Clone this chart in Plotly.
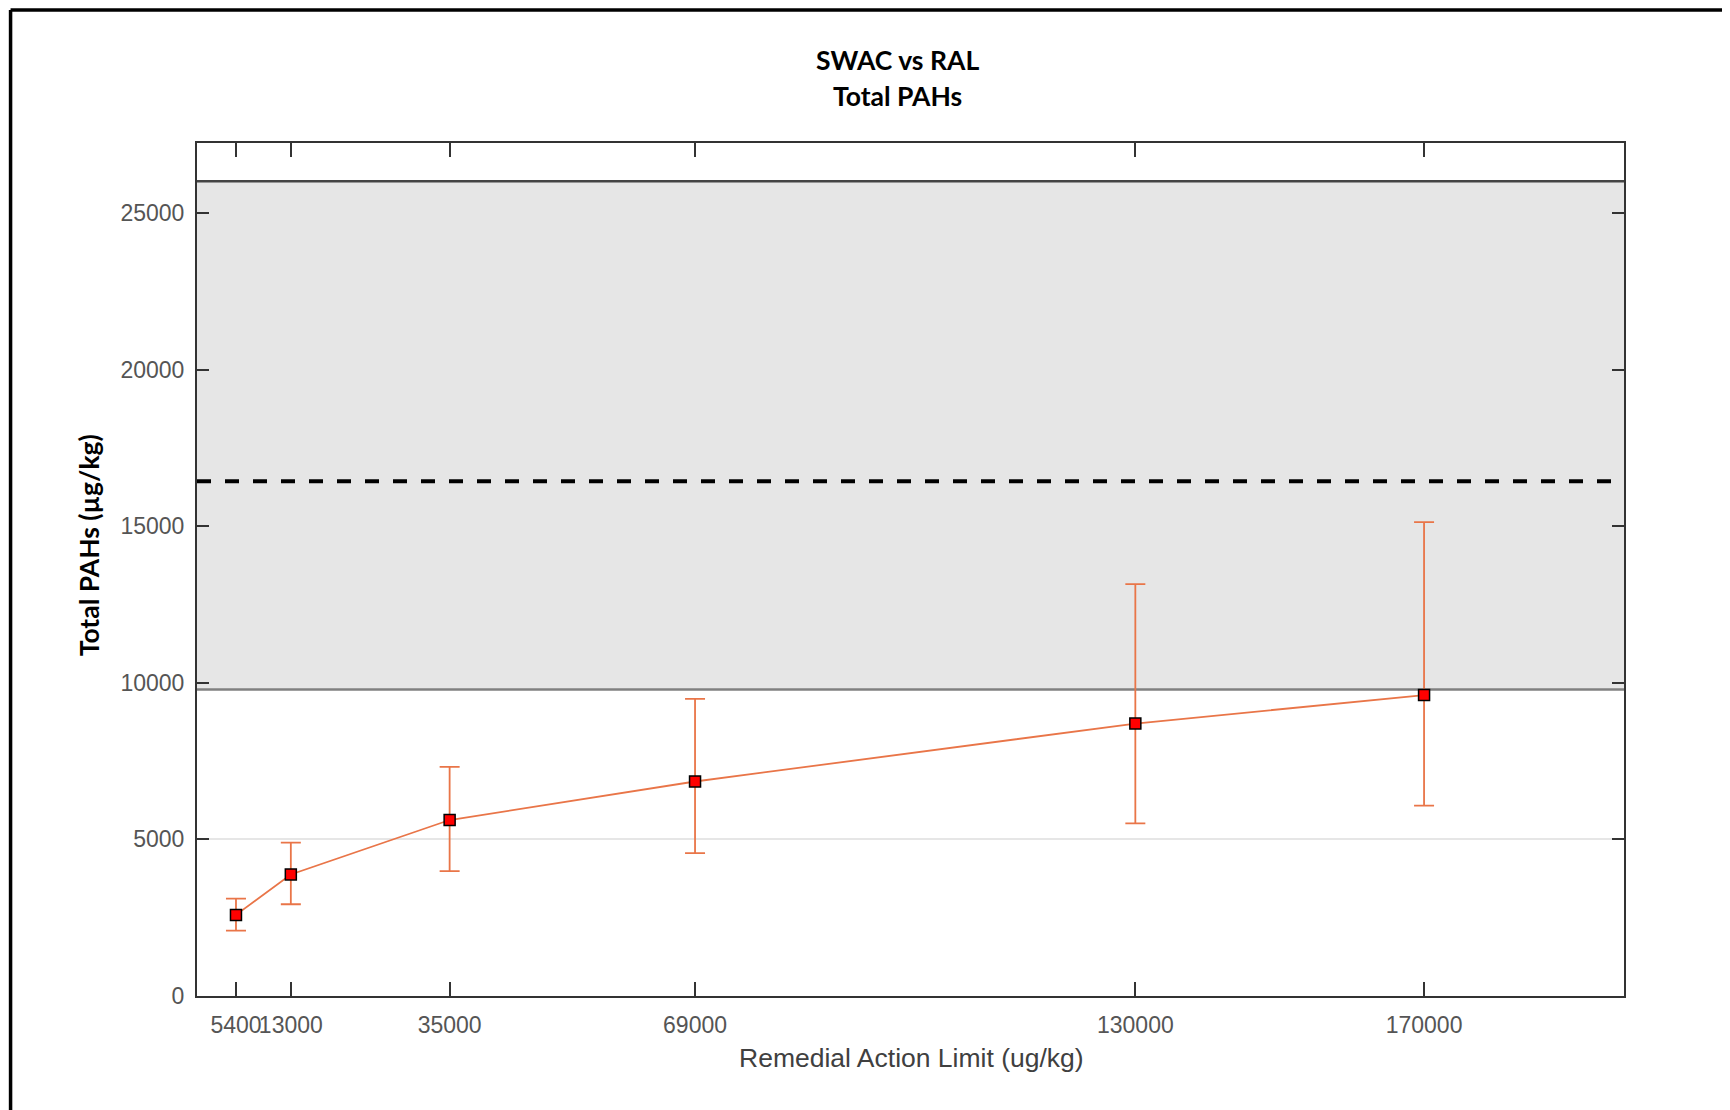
import plotly.graph_objects as go

# ---- data ----
ral = [5400, 13000, 35000, 69000, 130000, 170000]
swac = [2590, 3880, 5620, 6850, 8700, 9610]
upper = [3110, 4900, 7320, 9490, 13150, 15130]
lower = [2090, 2930, 3990, 4560, 5510, 6080]
x_tick_vals = [5400, 13000, 35000, 69000, 130000, 170000]
x_tick_text = ["5400", "13000", "35000", "69000", "130000", "170000"]
y_tick_vals = [0, 5000, 10000, 15000, 20000, 25000]
y_tick_text = ["0", "5000", "10000", "15000", "20000", "25000"]
band_low, band_high = 9790, 26020
dashed_level = 16440

err_plus = [u - v for u, v in zip(upper, swac)]
err_minus = [v - l for v, l in zip(swac, lower)]

W, H = 1730, 1110
OFF = 8  # page offset of the figure
ML, MT = 196.5 - OFF, 143 - OFF
PW, PH = 1427.5, 853.5
MR, MB = W - ML - PW, H - MT - PH

def px_x(p):
    return (p - OFF - ML) / PW

def px_y(p):
    return 1 - (p - OFF - MT) / PH

line_col = "#E97548"

fig = go.Figure()
fig.add_trace(go.Scatter(
    x=ral, y=swac, mode="lines+markers",
    line=dict(color=line_col, width=1.8),
    marker=dict(symbol="square", size=11, color="#ff0000",
                line=dict(color="#000000", width=1.5)),
    error_y=dict(type="data", symmetric=False, array=err_plus,
                 arrayminus=err_minus, color=line_col, thickness=1.8, width=10),
    showlegend=False,
))

shapes = [
    dict(type="rect", xref="paper", yref="y", x0=0, x1=1, y0=band_low, y1=band_high,
         fillcolor="#e6e6e6", line=dict(width=0), layer="between"),
    dict(type="line", xref="paper", yref="y", x0=0, x1=1, y0=band_high, y1=band_high,
         line=dict(color="#444444", width=2.5), layer="between"),
    dict(type="line", xref="paper", yref="y", x0=0, x1=1, y0=band_low, y1=band_low,
         line=dict(color="#808080", width=2.5), layer="between"),
    dict(type="line", xref="paper", yref="y", x0=0.0, x1=1, y0=dashed_level, y1=dashed_level,
         line=dict(color="#000000", width=4, dash="14px,14px"), layer="between"),
    # outer image frame (top & left)
    dict(type="line", xref="paper", yref="paper", x0=px_x(10), x1=px_x(W + 20),
         y0=px_y(10), y1=px_y(10), line=dict(color="#000000", width=3.5)),
    dict(type="line", xref="paper", yref="paper", x0=px_x(10), x1=px_x(10),
         y0=px_y(10), y1=px_y(H + 20), line=dict(color="#000000", width=3.5)),
]

annotations = [
    dict(text="<b>SWAC vs RAL</b>", xref="paper", yref="paper", x=px_x(897), y=px_y(60),
         showarrow=False, font=dict(family="Lato", size=26.5, color="#000000"),
         xanchor="center", yanchor="middle"),
    dict(text="<b>Total PAHs</b>", xref="paper", yref="paper", x=px_x(897), y=px_y(96),
         showarrow=False, font=dict(family="Lato", size=26.5, color="#000000"),
         xanchor="center", yanchor="middle"),
    dict(text="<b>Total PAHs (µg/kg)</b>", xref="paper", yref="paper", x=px_x(88), y=px_y(546),
         showarrow=False, textangle=-90, font=dict(family="Lato", size=26.5, color="#000000"),
         xanchor="center", yanchor="middle"),
    dict(text="Remedial Action Limit (ug/kg)", xref="paper", yref="paper", x=px_x(911), y=px_y(1059),
         showarrow=False, font=dict(family="Liberation Sans", size=26.5, color="#404040"),
         xanchor="center", yanchor="middle"),
]

fig.update_layout(
    width=W, height=H,
    margin=dict(l=ML, r=MR, t=MT, b=MB, pad=0),
    paper_bgcolor="#ffffff", plot_bgcolor="#ffffff",
    shapes=shapes, annotations=annotations,
    font=dict(family="Liberation Sans", size=22, color="#555555"),
)
fig.update_xaxes(
    range=[0, 197700], tickmode="array", tickvals=x_tick_vals, ticktext=x_tick_text,
    tickangle=0, ticklabelstandoff=7,
    showgrid=False, zeroline=False, showline=True, linecolor="#333333", linewidth=2,
    mirror="ticks", ticks="inside", ticklen=14, tickwidth=1.5, tickcolor="#333333",
    tickfont=dict(family="Liberation Sans", size=23, color="#555555"),
)
fig.update_yaxes(
    range=[0, 27240], tickmode="array", tickvals=y_tick_vals, ticktext=y_tick_text,
    ticklabelstandoff=6,
    showgrid=True, gridcolor="#e6e6e6", gridwidth=2, zeroline=False,
    showline=True, linecolor="#333333", linewidth=2,
    mirror="ticks", ticks="inside", ticklen=12, tickwidth=1.5, tickcolor="#333333",
    tickfont=dict(family="Liberation Sans", size=23, color="#555555"),
)

fig.write_html("out.html")
